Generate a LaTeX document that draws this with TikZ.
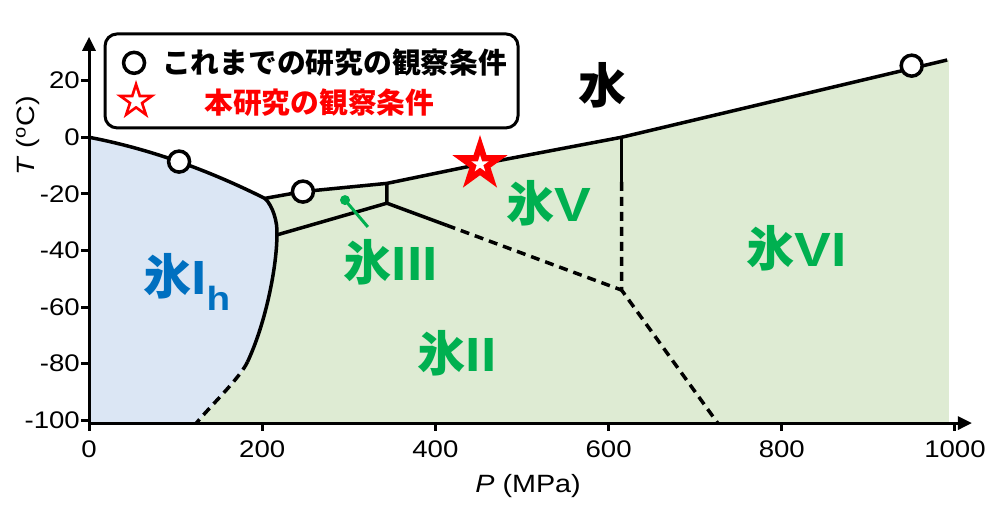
\documentclass[tikz,border=0pt]{standalone}
\usepackage{fontspec}
\setmainfont{Liberation Sans}[FakeStretch = 1.15]
\newfontfamily\jp{Noto Sans CJK JP}
\usetikzlibrary{shapes.geometric, arrows.meta}
\definecolor{iceblue}{HTML}{DBE6F4}
\definecolor{icegreen}{HTML}{DEEBD3}
\definecolor{labblue}{HTML}{0070C0}
\definecolor{labgreen}{HTML}{00B050}

\begin{document}
\begin{tikzpicture}[x = 0.866pt, y = 2.83pt,
  bound/.style = {line width = 3.5pt, line join = round},
  meta/.style = {bound, dash pattern = on 9pt off 6pt},
  obs/.style = {circle, draw, fill = white, line width = 3.5pt, minimum size = 21pt, inner sep = 0pt},
  redstar/.style = {star, star points = 5, star point ratio = 2.618, inner sep = 0pt, fill = red},
  whitestar/.style = {redstar, fill = white},
  ticklabel/.style = {font = \fontsize{24}{24}\selectfont},
  legendtext/.style = {font = \fontsize{28.75}{28.75}\selectfont\bfseries\jp},
  phase/.style = {font = \fontsize{48}{48}\selectfont\bfseries, inner sep = 0pt}]
\useasboundingbox (-102.8, -129.9) rectangle (1043.9, 48.5);
\coordinate (o) at (0, 0);
\coordinate (c1) at (104, -8.6);
\coordinate (tA) at (203, -21.6);
\coordinate (tB) at (217, -34.5);
\coordinate (c2) at (247, -19.2);
\coordinate (tC) at (344, -16.3);
\coordinate (tD) at (344, -23.3);
\coordinate (s1) at (451.5, -9.5);
\coordinate (tE) at (615, 0);
\coordinate (tF) at (615, -54);
\coordinate (c3) at (950, 25.3);
\coordinate (wEnd) at (991, 27.3);
\coordinate (ihMid) at (183, -79.4);
\coordinate (ihEnd) at (124, -101);
\coordinate (vMid) at (413, -31.1);
\coordinate (viMid) at (615, -15.8);
\coordinate (viEnd) at (726, -101);
\fill[icegreen] (o) .. controls (68, -4) and (135, -11.2) .. (tA) -- (c2) -- (tC) -- (tE) -- (wEnd) -- (993, 27.3) -- (993, -101) -- (0, -101) -- cycle;
\fill[iceblue] (o) .. controls (68, -4) and (135, -11.2) .. (tA) .. controls (212, -24) and (218, -30) .. (tB) .. controls (217, -45) and (205, -65) .. (ihMid) .. controls (174, -85.2) and (140, -95) .. (ihEnd) -- (0, -101) -- cycle;
\draw[line width = 3pt, -{Triangle[length = 14pt, width = 13pt]}] (0, -101) -- (1019.6, -101);
\draw[line width = 3pt, -{Triangle[length = 14pt, width = 13pt]}] (0, -101) -- (0, 35.5);
\foreach \t in {-100, -80, ..., 20} {
  \draw[line width = 3pt] (0, \t) -- ++(-8pt, 0pt);
  \node[ticklabel, anchor = east, inner sep = 0pt] at (-10.4, \t) {\t};
}
\foreach \p in {0, 200, ..., 1000} {
  \draw[line width = 3pt] (\p, -101) -- ++(0pt, -8pt);
  \node[ticklabel] at (\p, -110.1) {\p};
}
\node[font = \fontsize{25}{25}\selectfont] at (507, -123.3) {\textit{P} (MPa)};
\node[font = \fontsize{25}{25}\selectfont, rotate = 90] at (-70.4, 0.5) {\textit{T} (\textsuperscript{o}C)};
\draw[bound] (o) .. controls (68, -4) and (135, -11.2) .. (tA) -- (c2) -- (tC) -- (s1) -- (tE) -- (wEnd);
\draw[bound] (tA) .. controls (212, -24) and (218, -30) .. (tB) .. controls (217, -45) and (205, -65) .. (ihMid);
\draw[meta] (ihMid) .. controls (174, -85.2) and (140, -95) .. (ihEnd);
\draw[bound] (tB) -- (tD) -- (tC);
\draw[bound] (tD) -- (vMid);
\draw[meta] (vMid) -- (tF);
\draw[bound] (tE) -- (viMid);
\draw[meta] (viMid) -- (tF) -- (viEnd);
\node[obs] at (c1) {};
\node[obs] at (c2) {};
\node[obs] at (c3) {};
\node[redstar, minimum size = 58pt] at (s1) {};
\node[whitestar, minimum size = 18pt] at (s1) {};
\node[phase] (water) at (592.4, 18.5) {\jp 水};
\node[phase, labblue, anchor = west] (ih) at (62.4, -51.1) {{\jp 氷}I\textsubscript{h}};
\node[phase, labgreen] (iii) at (348.7, -44.1) {{\jp 氷}III};
\node[phase, labgreen] (v) at (531, -23.2) {{\jp 氷}V};
\node[phase, labgreen] (vi) at (817.6, -39.1) {{\jp 氷}VI};
\node[phase, labgreen] (ii) at (425, -76.2) {{\jp 氷}II};
\fill[labgreen] (295.6, -22.2) circle (5pt) coordinate (dot);
\draw[labgreen, line width = 3pt] (dot) -- (322, -31.7);
\draw[line width = 3pt, rounded corners = 12pt, fill = white] (18.5, 36.5) rectangle (495.4, 3.3);
\node[obs] (lcirc) at (52, 26.3) {};
\node[legendtext, anchor = west, inner sep = 0pt] (ltext) at (84.3, 26.3) {これまでの研究の観察条件};
\node[redstar, minimum size = 42pt] (lstar) at (54.3, 12.8) {};
\node[whitestar, minimum size = 24pt] at (lstar) {};
\node[legendtext, red, inner sep = 0pt] (lstext) at (266, 12.1) {本研究の観察条件};
\end{tikzpicture}
\end{document}
